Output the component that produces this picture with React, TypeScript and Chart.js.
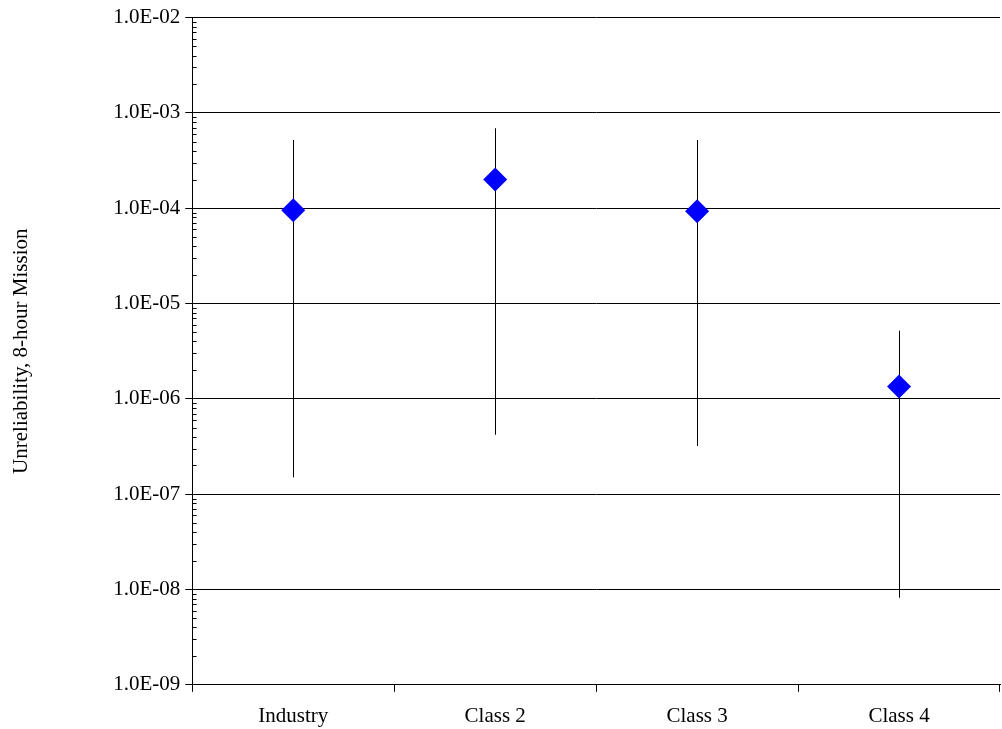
import { useEffect, useRef } from "react";
import Chart from "chart.js/auto";

const categories = ["Industry", "Class 2", "Class 3", "Class 4"];
const pointValues = [9.5e-5, 2.0e-4, 9.3e-5, 1.35e-6];
const upperValues = [5.2e-4, 6.9e-4, 5.2e-4, 5.2e-6];
const lowerValues = [1.5e-7, 4.2e-7, 3.2e-7, 8.2e-9];
const yTicks = [1e-9, 1e-8, 1e-7, 1e-6, 1e-5, 1e-4, 1e-3, 1e-2];

const fmt = (v: number) => {
  const e = Math.round(Math.log10(v));
  const s = Math.abs(e).toString().padStart(2, "0");
  return "1.0E" + (e < 0 ? "-" : "+") + s;
};

const extras = {
  id: "extras",
  beforeDatasetsDraw(chart: any) {
    const { ctx, scales } = chart;
    const x = scales.x;
    const y = scales.y;
    ctx.save();
    ctx.strokeStyle = "#000";
    ctx.lineWidth = 1;
    // error bars
    categories.forEach((_, i) => {
      const px = Math.round(x.getPixelForValue(i)) + 0.5;
      ctx.beginPath();
      ctx.moveTo(px, y.getPixelForValue(upperValues[i]));
      ctx.lineTo(px, y.getPixelForValue(lowerValues[i]));
      ctx.stroke();
    });
    // minor ticks
    const ax = Math.round(x.left) + 0.5;
    for (let d = -9; d < -2; d++) {
      for (let m = 2; m <= 9; m++) {
        const py = Math.round(y.getPixelForValue(m * Math.pow(10, d))) + 0.5;
        ctx.beginPath();
        ctx.moveTo(ax, py);
        ctx.lineTo(ax + 4, py);
        ctx.stroke();
      }
    }
    ctx.restore();
  },
};

const App = () => {
  const chartRef = useRef<HTMLCanvasElement | null>(null);
  useEffect(() => {
    document.body.style.margin = "0";
    const ctx = chartRef.current!.getContext("2d")!;
    const chart = new Chart(ctx, {
      type: "line",
      data: {
        labels: categories,
        datasets: [
          {
            data: pointValues,
            showLine: false,
            pointStyle: "rectRot",
            pointRadius: 12,
            backgroundColor: "#0000ff",
            borderColor: "#0000ff",
            borderWidth: 0,
          },
        ],
      },
      options: {
        animation: false,
        responsive: false,
        plugins: { legend: { display: false }, tooltip: { enabled: false } },
        layout: { padding: { top: 8, right: 0, left: 5, bottom: -12 } },
        scales: {
          x: {
            type: "category",
            offset: true,
            border: { color: "#000", width: 1 },
            grid: {
              offset: true,
              drawOnChartArea: false,
              drawTicks: true,
              tickLength: 7,
              color: "#000",
            },
            ticks: {
              color: "#000",
              padding: 12,
              font: { family: "Liberation Serif", size: 21 },
            },
          },
          y: {
            type: "logarithmic",
            min: 1e-9,
            max: 1e-2,
            afterBuildTicks: (s: any) => {
              s.ticks = yTicks.map((v) => ({ value: v }));
            },
            border: { color: "#000", width: 1 },
            grid: { color: "#000", tickLength: 7 },
            ticks: {
              color: "#000",
              padding: 5,
              font: { family: "Liberation Serif", size: 21 },
              callback: (v: any) => fmt(Number(v)),
            },
            title: {
              display: true,
              text: "Unreliability, 8-hour Mission",
              color: "#000",
              font: { family: "Liberation Serif", size: 21 },
              padding: { bottom: 74 },
            },
          },
        },
      },
      plugins: [extras],
    });
    return () => chart.destroy();
  }, []);
  return (
    <div style={{ width: 1002, height: 729, background: "#fff", overflow: "hidden" }}>
      <canvas ref={chartRef} width={1012} height={729} />
    </div>
  );
};

export default App;
